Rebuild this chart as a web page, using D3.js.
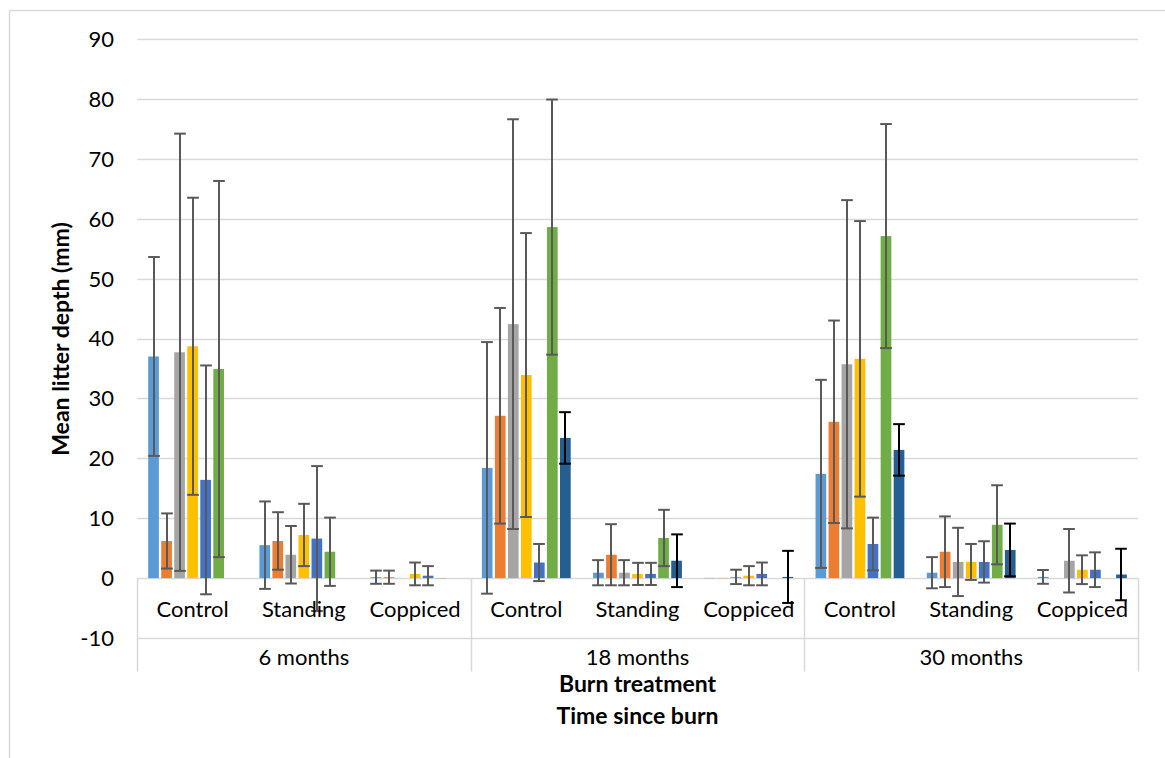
<!DOCTYPE html>
<html>
<head>
<meta charset="utf-8">
<script src="https://cdn.jsdelivr.net/npm/d3@7"></script>
<style>
  body { margin: 0; background: #fff; }
  text { font-family: Lato, "Open Sans", sans-serif; fill: #000; }
</style>
</head>
<body>
<svg id="chart" width="1165" height="758"></svg>
<script>
// time groups and treatments (multi-level category axis)
const times = ["6 months", "18 months", "30 months"];
const treatments = ["Control", "Standing", "Coppiced"];
const yTicks = [-10, 0, 10, 20, 30, 40, 50, 60, 70, 80, 90];

// series colours (7 series, no legend in the original)
const colors = ["#5B9BD5", "#ED7D31", "#A5A5A5", "#FFC000", "#4472C4", "#70AD47", "#255E91"];
const errColors = ["#595959", "#595959", "#595959", "#595959", "#595959", "#595959", "#000000"];

// mean values per series, 9 categories in order: 6mo C/S/Cop, 18mo C/S/Cop, 30mo C/S/Cop
const s1 = [37.0, 5.5, 0.15, 18.4, 0.9, 0.05, 17.4, 0.9, 0.2];
const s2 = [6.2, 6.2, 0.15, 27.1, 3.9, 0.05, 26.1, 4.4, null];
const s3 = [37.7, 3.9, null, 42.4, 0.9, 0.2, 35.7, 2.7, 2.9];
const s4 = [38.7, 7.2, 0.7, 33.9, 0.7, 0.4, 36.6, 2.7, 1.4];
const s5 = [16.4, 6.6, 0.4, 2.6, 0.7, 0.7, 5.7, 2.7, 1.4];
const s6 = [34.9, 4.4, 0.02, 58.6, 6.7, null, 57.1, 8.9, null];
const s7 = [null, null, null, 23.4, 2.9, 0.2, 21.4, 4.7, 0.6];

// error bar half-widths (+/-)
const e1 = [16.6, 7.3, 1.1, 21.0, 2.1, 0, 15.7, 2.6, 1.15];
const e2 = [4.6, 4.8, 1.1, 18.0, 5.1, 0, 16.9, 5.9, 0];
const e3 = [36.5, 4.8, 0, 34.2, 2.1, 1.2, 27.4, 5.7, 5.3];
const e4 = [24.8, 5.2, 1.9, 23.7, 1.85, 1.6, 23.0, 3.0, 2.4];
const e5 = [19.1, 12.1, 1.6, 3.1, 1.85, 1.9, 4.4, 3.45, 2.9];
const e6 = [31.4, 5.7, 0, 21.3, 4.7, 0, 18.7, 6.6, 0];
const e7 = [0, 0, 0, 4.3, 4.4, 4.35, 4.3, 4.4, 4.3];

const values = [s1, s2, s3, s4, s5, s6, s7];
const errors = [e1, e2, e3, e4, e5, e6, e7];

const svg = d3.select("#chart");
const W = 1165, H = 758;
const plot = { left: 137, right: 1138, top: 39, bottom: 638 };
const gridColor = "#d9d9d9";

svg.append("rect").attr("width", W).attr("height", H).attr("fill", "#fff");

// chart area border (only top and left visible in the crop)
svg.append("line").attr("x1", 9.5).attr("x2", W).attr("y1", 10.5).attr("y2", 10.5)
  .attr("stroke", gridColor).attr("stroke-width", 1.5);
svg.append("line").attr("x1", 9.5).attr("x2", 9.5).attr("y1", 10.5).attr("y2", H)
  .attr("stroke", gridColor).attr("stroke-width", 1.5);

const categories = [];
times.forEach(t => treatments.forEach(tr => categories.push(t + "|" + tr)));

const y = d3.scaleLinear().domain([-10, 90]).range([plot.bottom, plot.top]);
const x = d3.scaleBand().domain(categories).range([plot.left, plot.right]);
const xInner = d3.scaleBand().domain(d3.range(7)).range([0, x.bandwidth()])
  .paddingInner(0.18).paddingOuter(0.86);

// gridlines 0..90
svg.append("g").selectAll("line")
  .data(yTicks.filter(v => v >= 0))
  .enter().append("line")
  .attr("x1", plot.left).attr("x2", plot.right)
  .attr("y1", d => Math.round(y(d)) + 0.5).attr("y2", d => Math.round(y(d)) + 0.5)
  .attr("stroke", gridColor).attr("stroke-width", 1.3);

// y tick labels
svg.append("g").selectAll("text")
  .data(yTicks)
  .enter().append("text")
  .attr("x", 114).attr("y", d => y(d))
  .attr("dy", "0.36em")
  .attr("text-anchor", "end")
  .style("font-size", "22px")
  .text(d => d);

// y axis title
svg.append("text")
  .attr("transform", "translate(69,339) rotate(-90)")
  .attr("text-anchor", "middle")
  .style("font-size", "23px").style("font-weight", "bold")
  .text("Mean litter depth (mm)");

// category axis box
const axisG = svg.append("g").attr("stroke", gridColor).attr("stroke-width", 1.5);
const y0 = Math.round(y(0)) + 0.5;
const yMid = Math.round(y(-10)) + 0.5;
const yBot = 671.5;
axisG.append("line").attr("x1", plot.left).attr("x2", plot.right).attr("y1", yMid).attr("y2", yMid);
const bounds = [0, 3, 6, 9].map(i => i < 9 ? x(categories[i]) : plot.right);
axisG.selectAll(".vb").data(bounds).enter().append("line")
  .attr("x1", d => Math.round(d) + 0.5).attr("x2", d => Math.round(d) + 0.5)
  .attr("y1", y0).attr("y2", yBot);

// bars
categories.forEach((c, ci) => {
  values.forEach((vals, si) => {
    const v = vals[ci];
    if (v === null) return;
    const bx = x(c) + xInner(si);
    svg.append("rect")
      .attr("x", bx).attr("width", xInner.bandwidth())
      .attr("y", y(Math.max(v, 0))).attr("height", Math.max(Math.abs(y(v) - y(0)), 0.8))
      .attr("fill", colors[si])
      .attr("fill-opacity", v < 0.1 ? 0.35 : 1);
  });
});

// error bars
categories.forEach((c, ci) => {
  values.forEach((vals, si) => {
    const v = vals[ci];
    const e = errors[si][ci];
    if (v === null || !e) return;
    const cx = Math.round(x(c) + xInner(si) + xInner.bandwidth() / 2);
    const hw = xInner.bandwidth() / 2 + 0.5;
    const g = svg.append("g").attr("stroke", errColors[si]).attr("stroke-width", 2);
    g.append("line").attr("x1", cx).attr("x2", cx).attr("y1", y(v + e)).attr("y2", y(v - e));
    [v + e, v - e].forEach(d => {
      g.append("line").attr("x1", cx - hw).attr("x2", cx + hw).attr("y1", y(d)).attr("y2", y(d));
    });
  });
});

// level 1 labels
svg.append("g").selectAll("text")
  .data(categories)
  .enter().append("text")
  .attr("x", d => x(d) + x.bandwidth() / 2)
  .attr("y", 617)
  .attr("text-anchor", "middle")
  .style("font-size", "22px")
  .text(d => d.split("|")[1]);

// level 2 labels
svg.append("g").selectAll("text")
  .data(times)
  .enter().append("text")
  .attr("x", (d, i) => (bounds[i] + bounds[i + 1]) / 2)
  .attr("y", 665)
  .attr("text-anchor", "middle")
  .style("font-size", "22px")
  .text(d => d);

// x axis titles
const midX = (plot.left + plot.right) / 2;
svg.append("text").attr("x", midX).attr("y", 692).attr("text-anchor", "middle")
  .style("font-size", "23px").style("font-weight", "bold").text("Burn treatment");
svg.append("text").attr("x", midX).attr("y", 724).attr("text-anchor", "middle")
  .style("font-size", "23px").style("font-weight", "bold").text("Time since burn");
</script>
</body>
</html>
